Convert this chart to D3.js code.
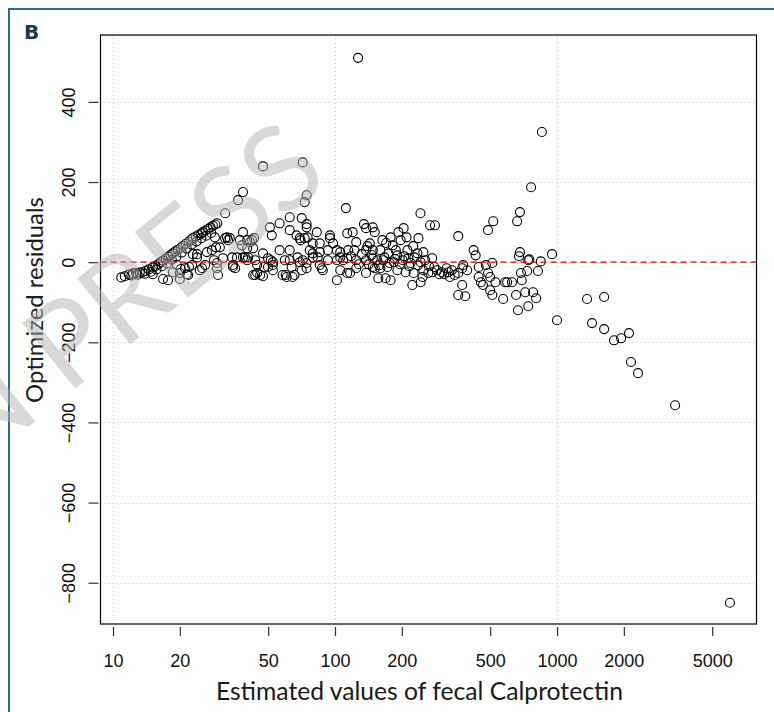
<!DOCTYPE html>
<html>
<head>
<meta charset="utf-8">
<script src="https://cdn.jsdelivr.net/npm/d3@7"></script>
<style>
  body { margin: 0; background: #fff; }
  svg { display: block; }
</style>
</head>
<body>
<svg id="chart" width="774" height="712"></svg>
<script>
// axis ticks
const xTicks = [10, 20, 50, 100, 200, 500, 1000, 2000, 5000];
const xGrid = [10, 100, 1000];
const yTicks = [-800, -600, -400, -200, 0, 200, 400];

// [estimated fecal calprotectin, optimized residual]
// the tight curved band at the low end
const bandPts = [
  [10.9,-38],[11.3,-35],[11.8,-31],[12.3,-28],[12.7,-27],[13.2,-26],[13.6,-25],[14.0,-22],
  [14.5,-18],[15.1,-13],[15.5,-10],[16.0,-5],[16.4,0],[16.8,4],[17.3,9],[17.8,14],
  [18.2,18],[18.6,22],[19.1,27],[19.6,31],[20.2,36],[20.7,41],[21.3,46],[21.9,51],
  [22.5,56],[22.9,60],[23.6,64],[24.3,68],[25.0,72],[25.4,75],[26.1,79],[26.8,83],
  [27.5,87],[28.2,91],[28.9,94],[29.5,97],
  [12.1,-33],[12.9,-31],[13.9,-29],[14.8,-24],[15.7,-18],[16.6,-10],[17.5,-3],[18.4,6],
  [19.3,14],[20.4,24],[21.5,34],[22.6,44],[23.8,52],[25.0,60],[26.3,66],[27.7,73]
];

// main cloud, low and middle range
const cloudPts = [
  [15.1,-30],[16.8,-42],[17.7,-45],[18.6,-25],[20.0,-42],[20.2,-17],[19.4,-7],[21.5,-30],
  [22.0,-12],[22.7,-7],[23.9,12],[23.9,20],[25.2,-15],[26.5,25],[27.9,30],[28.8,62],
  [28.5,5],[29.4,-15],[29.7,-32],[29.1,37],[32.0,122],[32.0,60],[32.6,62],[31.3,10],
  [34.4,12],[34.7,-7],[36.2,12],[38.1,42],[38.5,75],[40.2,55],[36.6,155],[38.5,175],
  [20.0,-27],[21.1,-15],[21.8,-32],[29.4,-2],[33.0,55],[33.6,60],[35.5,-15],[42.3,55],
  [43.2,60],[40.2,35],[42.8,35],[39.3,12],[40.6,12],[44.6,-7],[43.7,-32],[47.4,-35],
  [47.4,239],[49.9,10],[51.4,5],[52.5,-7],[56.3,30],[59.4,5],[62.5,30],[63.8,-12],
  [64.4,-37],[60.6,-37],[62.5,112],[62.5,80],[56.3,97],[50.9,87],[51.9,67],[70.8,110],
  [74.5,95],[74.5,87],[71.5,249],[74.5,167],[73.0,150],[69.4,60],[75.3,62],[79.4,47],
  [82.8,75],[76.9,30],[79.4,22],[71.5,5],[74.5,-2],[70.8,-20],[83.6,12],[85.4,-7],
  [88.1,-20],[94.9,67],[94.9,60],[98.0,47],[102,30],[105.6,12],[102,-45],[108.9,5],
  [112,135],[113.5,72],[114.6,30],[113.5,-27],[67.1,67],[70.0,55],[85.4,47],[120.1,75],
  [135,95],[138,85],[151,75],[124.6,50],[143.5,47],[41.4,50],[38.5,12],[40.2,5],
  [43.7,5],[47.4,22],[85.4,25],[92.9,30],[105.6,25],[122.3,30],[138,30],[148,30],
  [47.9,-12],[46.0,-32],[42.8,-32],[52.5,-20],[58.1,-32],[65.7,-32],[74.5,-15],[87.2,-15],
  [105.6,-20],[116.9,-27],[124.6,-15],[138,-27],[151,-15],[156.7,-40],[52.5,0],[62.5,5],
  [69.4,0],[79.4,12],[92.9,5],[102,5],[113.5,10],[124.6,5],[138,5],[155,5],
  [22.9,20],[24.6,-20],[26.0,-7],[30.3,37],[34.7,-12],[37.3,55],[44.6,-27],[49.9,-12],
  [60.0,-32],[67.8,12],[73.0,60]
];

// cloud from ~150 to ~600
const midPts = [
  [242.6,122],[268,92],[282,92],[359,65],[237.7,60],[203.7,85],[193,75],[148,87],
  [163.5,55],[197.5,55],[182,42],[250,25],[274,10],[235,22],[212,30],[214,10],
  [160,30],[174,22],[191,17],[148,10],[165,5],[184,0],[202,5],[219,-2],
  [243,0],[148,-12],[160,-15],[172,-12],[191,-20],[208,-25],[226,-27],[250,-20],
  [169,-40],[178,-45],[223,-57],[243,-50],[248,-37],[263,-27],[274,-25],[288,-20],
  [303,-25],[318,-15],[336,-20],[346,-32],[359,-27],[374,-15],[394,-20],[329,-37],
  [421,30],[430,17],[378,-7],[444,-12],[478,-7],[511,-2],[489,-27],[444,-37],
  [454,-50],[464,-57],[500,-37],[528,-50],[500,-70],[511,-82],[596,-50],[374,-57],
  [359,-82],[386,-85],[516,102],[489,80],
  [118,15],[128,-5],[132,20],[142,-5],[146,18],[158,-8],[167,12],[176,-2],
  [186,8],[196,-5],[205,15],[216,-10],[228,12],[236,-8],[255,5],[265,-10],
  [280,-12],[295,-30],[310,-30],[325,-25],[140,40],[170,48],[188,30],[225,40],
  [210,62],[178,62]
];

// upper range, 600 - 1000
const rightPts = [
  [764,187],[681,125],[661,102],[681,25],[674,15],[750,7],[742,5],[845,2],
  [950,20],[821,-22],[734,-22],[688,-27],[694,-45],[584,-50],[627,-50],[572,-92],
  [654,-82],[719,-75],[780,-75],[805,-90],[667,-120],[742,-110],[1000,-145],[855,325]
];

// sparse tail and the top outlier
const tailPts = [
  [1365,-92],[1630,-87],[1438,-152],[1630,-167],[1806,-195],[1943,-190],[2109,-177],
  [2153,-249],[2317,-277],[3404,-357],[6010,-850],[127,510]
];

const allPts = bandPts.concat(cloudPts, midPts, rightPts, tailPts);

const box = {left: 100.5, right: 756.5, top: 35, bottom: 624};

const svg = d3.select('#chart');

// page frame
svg.append('path')
  .attr('d', 'M9,712V9H774')
  .attr('fill', 'none')
  .attr('stroke', '#2d6a8e')
  .attr('stroke-width', 2);

svg.append('text')
  .attr('x', 24)
  .attr('y', 39)
  .attr('font-family', 'DejaVu Sans, sans-serif')
  .attr('font-weight', 'bold')
  .attr('font-size', 20)
  .attr('fill', '#17384f')
  .text('B');

// scales (10 at 113px, 1000 at 557px; 0 at 262px, 400 at 102px)
const x = d3.scaleLog()
  .domain([8.785, 7916])
  .range([box.left, box.right]);

const y = d3.scaleLinear()
  .domain([-903, 567])
  .range([box.bottom, box.top]);

// dotted grid
const grid = svg.append('g')
  .attr('stroke', '#c8c8c8')
  .attr('stroke-width', 1)
  .attr('stroke-dasharray', '1,3');

grid.selectAll('.gx')
  .data(xGrid)
  .join('line')
    .attr('class', 'gx')
    .attr('x1', d => Math.round(x(d)) + 0.5)
    .attr('x2', d => Math.round(x(d)) + 0.5)
    .attr('y1', box.top)
    .attr('y2', box.bottom);

grid.selectAll('.gy')
  .data(yTicks)
  .join('line')
    .attr('class', 'gy')
    .attr('x1', box.left)
    .attr('x2', box.right)
    .attr('y1', d => Math.round(y(d)) + 0.5)
    .attr('y2', d => Math.round(y(d)) + 0.5);

// points
svg.append('g')
  .selectAll('circle')
  .data(allPts)
  .join('circle')
    .attr('cx', d => x(d[0]))
    .attr('cy', d => y(d[1]))
    .attr('r', 4.5)
    .attr('fill', 'none')
    .attr('stroke', '#000')
    .attr('stroke-width', 1.1);

// zero line
svg.append('line')
  .attr('x1', box.left)
  .attr('x2', box.right)
  .attr('y1', y(0))
  .attr('y2', y(0))
  .attr('stroke', '#e00000')
  .attr('stroke-width', 1.3)
  .attr('stroke-dasharray', '6,4');

// plot box
svg.append('rect')
  .attr('x', box.left)
  .attr('y', box.top)
  .attr('width', box.right - box.left)
  .attr('height', box.bottom - box.top)
  .attr('fill', 'none')
  .attr('stroke', '#000')
  .attr('stroke-width', 1.2);

// axes
const tickFont = "'Liberation Sans', Arial, sans-serif";

const xAxis = d3.axisBottom(x)
  .tickValues(xTicks)
  .tickFormat(d3.format('d'))
  .tickSize(9)
  .tickSizeOuter(0);

const xAxisG = svg.append('g')
  .attr('transform', `translate(0,${box.bottom + 3})`)
  .call(xAxis);
xAxisG.select('.domain').remove();
xAxisG.selectAll('line').attr('stroke', '#333').attr('stroke-width', 1.2);
xAxisG.selectAll('text')
  .attr('y', 40)
  .attr('dy', 0)
  .attr('fill', '#111')
  .attr('font-family', tickFont)
  .attr('font-size', 18);

const yAxis = d3.axisLeft(y)
  .tickValues(yTicks)
  .tickSize(10)
  .tickSizeOuter(0);

const yAxisG = svg.append('g')
  .attr('transform', `translate(${box.left - 2},0)`)
  .call(yAxis);
yAxisG.select('.domain').remove();
yAxisG.selectAll('line').attr('stroke', '#333').attr('stroke-width', 1.2);
yAxisG.selectAll('text')
  .attr('transform', 'rotate(-90)')
  .attr('x', 0)
  .attr('y', -24)
  .attr('dy', 0)
  .attr('text-anchor', 'middle')
  .attr('fill', '#111')
  .attr('font-family', tickFont)
  .attr('font-size', 18);

// axis titles, sized to the width seen in the picture
const titleFont = 'Lato, DejaVu Sans, sans-serif';

const xTitle = svg.append('text')
  .attr('x', 419.5)
  .attr('y', 700)
  .attr('text-anchor', 'middle')
  .attr('font-family', titleFont)
  .attr('font-size', 21)
  .attr('fill', '#1a1a1a')
  .text('Estimated values of fecal Calprotectin');
xTitle.attr('font-size', 21 * 407 / xTitle.node().getComputedTextLength());

const yTitle = svg.append('text')
  .attr('transform', 'translate(43,300) rotate(-90)')
  .attr('text-anchor', 'middle')
  .attr('font-family', titleFont)
  .attr('font-size', 21)
  .attr('fill', '#1a1a1a')
  .text('Optimized residuals');
yTitle.attr('font-size', 21 * 206 / yTitle.node().getComputedTextLength());

// watermark over the plot
svg.append('text')
  .attr('transform', 'translate(332,181) rotate(-39)')
  .attr('text-anchor', 'end')
  .attr('font-family', titleFont)
  .attr('font-weight', 400)
  .attr('font-size', 118)
  .attr('fill', '#b4b4b4')
  .attr('fill-opacity', 0.5)
  .text('IN PRESS');
</script>
</body>
</html>
